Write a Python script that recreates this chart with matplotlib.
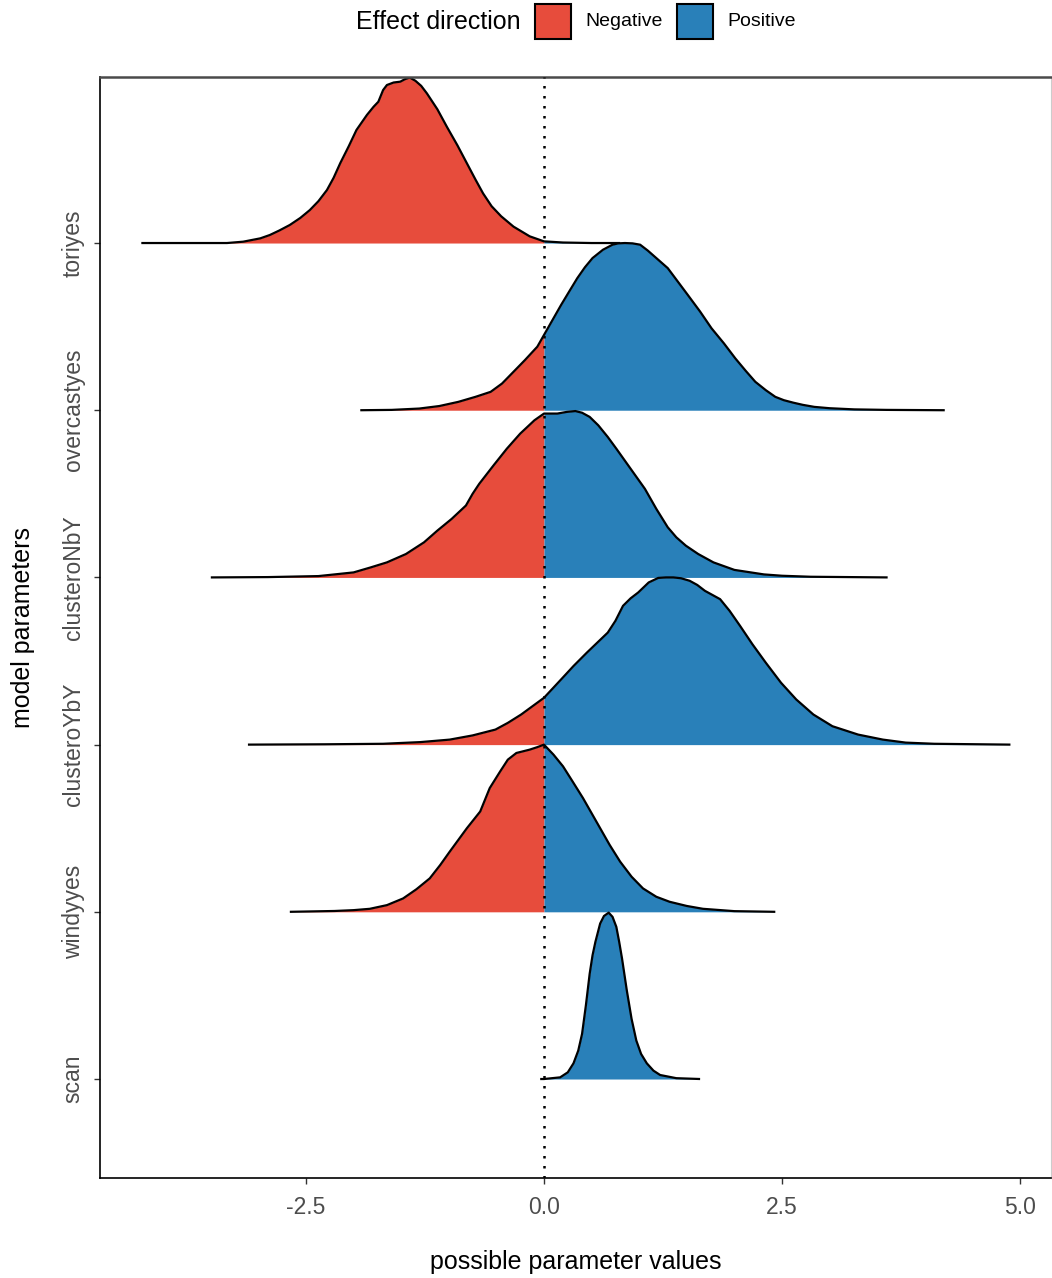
import matplotlib
matplotlib.use("Agg")
import matplotlib.pyplot as plt
from matplotlib.patches import Rectangle
import numpy as np

plt.rcParams['font.family'] = ['Liberation Sans', 'DejaVu Sans']

# ---- data (heights in units of ridge spacing) ----
categories = ["scan", "windyyes", "clusteroYbY", "clusteroNbY", "overcastyes", "toriyes"]

toriyes_x = [-4.23, -3.33, -3.16, -2.98, -2.88, -2.78, -2.67, -2.56, -2.46, -2.37, -2.28, -2.21,
             -2.14, -2.05, -1.97, -1.86, -1.79, -1.74, -1.69, -1.65, -1.58, -1.51, -1.46, -1.41,
             -1.35, -1.29, -1.23, -1.12, -1.02, -0.91, -0.81, -0.72, -0.64, -0.55, -0.45, -0.32,
             -0.15, 0.0, 0.2, 0.5, 0.8]
toriyes_h = [0.0, 0.0, 0.008, 0.028, 0.048, 0.075, 0.108, 0.15, 0.197, 0.25, 0.317, 0.39,
             0.478, 0.58, 0.676, 0.766, 0.815, 0.845, 0.915, 0.945, 0.96, 0.965, 0.98, 0.99,
             0.97, 0.94, 0.895, 0.80, 0.695, 0.585, 0.477, 0.38, 0.297, 0.22, 0.16, 0.098,
             0.04, 0.01, 0.003, 0.0, 0.0]

overcastyes_x = [-1.93, -1.6, -1.31, -1.1, -0.90, -0.72, -0.56, -0.44, -0.32, -0.2, -0.07, 0.0, 0.1,
                 0.18, 0.27, 0.35, 0.43, 0.51, 0.62, 0.72, 0.78, 0.85, 0.93, 1.01, 1.09, 1.18, 1.30,
                 1.51, 1.64, 1.76, 1.89, 2.01, 2.12, 2.22, 2.33, 2.43, 2.52, 2.62, 2.72, 2.84, 3.0,
                 3.26, 3.6, 4.21]
overcastyes_h = [0.0, 0.002, 0.01, 0.025, 0.05, 0.08, 0.11, 0.16, 0.23, 0.3, 0.38, 0.45, 0.55,
                 0.63, 0.715, 0.79, 0.855, 0.91, 0.96, 0.99, 0.998, 1.0, 0.998, 0.99, 0.955, 0.91, 0.85,
                 0.69, 0.59, 0.49, 0.40, 0.31, 0.235, 0.17, 0.12, 0.08, 0.06, 0.045, 0.032, 0.02, 0.012,
                 0.005, 0.002, 0.0]

clusteroNbY_x = [-3.50, -2.9, -2.37, -2.2, -2.0, -1.82, -1.65, -1.55, -1.45, -1.26, -1.12, -0.97,
                 -0.82, -0.75, -0.68, -0.53, -0.39, -0.25, -0.10, 0.0, 0.07, 0.14, 0.24, 0.33, 0.40,
                 0.48, 0.57, 0.67, 0.76, 0.86, 0.96, 1.06, 1.18, 1.30, 1.39, 1.49, 1.62, 1.78, 2.0,
                 2.31, 2.5, 2.8, 3.61]
clusteroNbY_h = [0.0, 0.002, 0.008, 0.018, 0.03, 0.06, 0.09, 0.115, 0.14, 0.21, 0.28, 0.35,
                 0.43, 0.50, 0.56, 0.67, 0.77, 0.86, 0.94, 0.98, 0.98, 0.98, 0.99, 0.995, 0.985,
                 0.96, 0.91, 0.84, 0.77, 0.69, 0.61, 0.53, 0.41, 0.30, 0.24, 0.19, 0.14, 0.09, 0.045,
                 0.018, 0.01, 0.004, 0.0]

clusteroYbY_x = [-3.11, -2.3, -1.69, -1.3, -0.99, -0.75, -0.51, -0.38, -0.24, -0.12, 0.0, 0.09,
                 0.18, 0.31, 0.45, 0.56, 0.67, 0.75, 0.83, 0.91, 0.99, 1.10, 1.20, 1.28, 1.36, 1.44,
                 1.53, 1.61, 1.69, 1.85, 1.95, 2.06, 2.19, 2.33, 2.49, 2.65, 2.83, 3.03, 3.3, 3.56,
                 3.8, 4.10, 4.90]
clusteroYbY_h = [0.0, 0.002, 0.005, 0.015, 0.03, 0.055, 0.09, 0.13, 0.18, 0.23, 0.28, 0.335,
                 0.39, 0.47, 0.55, 0.61, 0.67, 0.74, 0.83, 0.875, 0.91, 0.97, 0.997, 1.0, 1.0, 0.995,
                 0.98, 0.955, 0.92, 0.87, 0.80, 0.71, 0.60, 0.49, 0.37, 0.27, 0.18, 0.11, 0.06, 0.03,
                 0.012, 0.005, 0.0]

windyyes_x = [-2.67, -2.2, -2.0, -1.83, -1.65, -1.48, -1.34, -1.20, -1.09, -0.99, -0.90, -0.81,
              -0.67, -0.57, -0.46, -0.38, -0.29, -0.22, -0.15, -0.07, 0.0, 0.1, 0.20, 0.30, 0.41,
              0.50, 0.59, 0.69, 0.80, 0.92, 1.04, 1.18, 1.32, 1.5, 1.67, 2.0, 2.43]
windyyes_h = [0.0, 0.005, 0.01, 0.018, 0.04, 0.08, 0.135, 0.20, 0.28, 0.36, 0.43, 0.50,
              0.60, 0.74, 0.84, 0.91, 0.95, 0.96, 0.97, 0.985, 1.0, 0.94, 0.87, 0.78, 0.68,
              0.59, 0.50, 0.40, 0.30, 0.21, 0.14, 0.09, 0.06, 0.035, 0.018, 0.004, 0.0]

scan_x = [-0.04, 0.0, 0.17, 0.25, 0.31, 0.36, 0.40, 0.44, 0.48, 0.51, 0.54, 0.59, 0.63, 0.68, 0.72,
          0.76, 0.79, 0.82, 0.87, 0.92, 0.97, 1.02, 1.08, 1.15, 1.22, 1.39, 1.64]
scan_h = [0.0, 0.0, 0.01, 0.04, 0.094, 0.17, 0.27, 0.44, 0.63, 0.74, 0.82, 0.93, 0.975, 0.995, 0.97,
          0.91, 0.82, 0.72, 0.53, 0.36, 0.23, 0.15, 0.094, 0.05, 0.024, 0.005, 0.0]

curves = {
    "scan": (scan_x, scan_h),
    "windyyes": (windyyes_x, windyyes_h),
    "clusteroYbY": (clusteroYbY_x, clusteroYbY_h),
    "clusteroNbY": (clusteroNbY_x, clusteroNbY_h),
    "overcastyes": (overcastyes_x, overcastyes_h),
    "toriyes": (toriyes_x, toriyes_h),
}

x_ticks = [-2.5, 0.0, 2.5, 5.0]
x_tick_labels = ["-2.5", "0.0", "2.5", "5.0"]
legend_labels = ["Negative", "Positive"]

RED = "#E74C3C"
BLUE = "#2980B9"

W, H = 1052, 1278
fig = plt.figure(figsize=(W / 100, H / 100), dpi=100)
ax = fig.add_axes([100 / W, 1 - 1178 / H, 951 / W, (1178 - 77) / H])

n = len(categories)
# draw top ridge first so lower ridges overlap it
for k, cat in enumerate(reversed(categories)):
    base = categories.index(cat) + 1
    xs = np.array(curves[cat][0])
    hs = np.array(curves[cat][1])
    z = 2 + k * 0.1
    ax.fill_between(xs, base, base + hs, where=xs <= 0, color=RED, lw=0, zorder=z)
    ax.fill_between(xs, base, base + hs, where=xs >= 0, color=BLUE, lw=0, zorder=z)
    ax.plot(xs, base + hs, color="black", lw=1.6, zorder=z + 0.05,
            solid_joinstyle="round", solid_capstyle="butt")

ax.axvline(0, color="black", lw=1.8, ls=(0, (1, 3)), zorder=10)

ax.set_xlim(-4.664, 5.326)
ax.set_ylim(0.408, 6.993)
ax.set_xticks(x_ticks)
ax.set_xticklabels(x_tick_labels)
ax.set_yticks(range(1, n + 1))
ax.set_yticklabels(categories, rotation=90, va="center")

ax.tick_params(axis="both", colors="#333333", labelcolor="#4D4D4D", labelsize=16.5,
               length=4, width=1)
ax.tick_params(axis="x", pad=9)
ax.tick_params(axis="y", pad=7)

for s in ["left", "bottom"]:
    ax.spines[s].set_color("black")
    ax.spines[s].set_linewidth(1.2)
ax.spines["top"].set_color("#4a4a4a")
ax.spines["top"].set_linewidth(1.8)
ax.spines["right"].set_color("#cccccc")
ax.spines["right"].set_linewidth(0.8)

ax.set_xlabel("possible parameter values", fontsize=18, color="black", labelpad=22)
ax.set_ylabel("model parameters", fontsize=18, color="black", labelpad=19)

# legend at top
fig.text(356 / W, 1 - 22 / H, "Effect direction", fontsize=18, ha="left", va="center")
key_x = [535, 677]
label_x = [585, 727]
for kx, lx, col, lab in zip(key_x, label_x, [RED, BLUE], legend_labels):
    fig.patches.append(Rectangle((kx / W, 1 - 39 / H), 36 / W, 35 / H, transform=fig.transFigure,
                                 facecolor=col, edgecolor="black", lw=1.5))
    fig.text(lx / W, 1 - 22 / H, lab, fontsize=14, ha="left", va="center")

fig.savefig("out.png", dpi=100)
